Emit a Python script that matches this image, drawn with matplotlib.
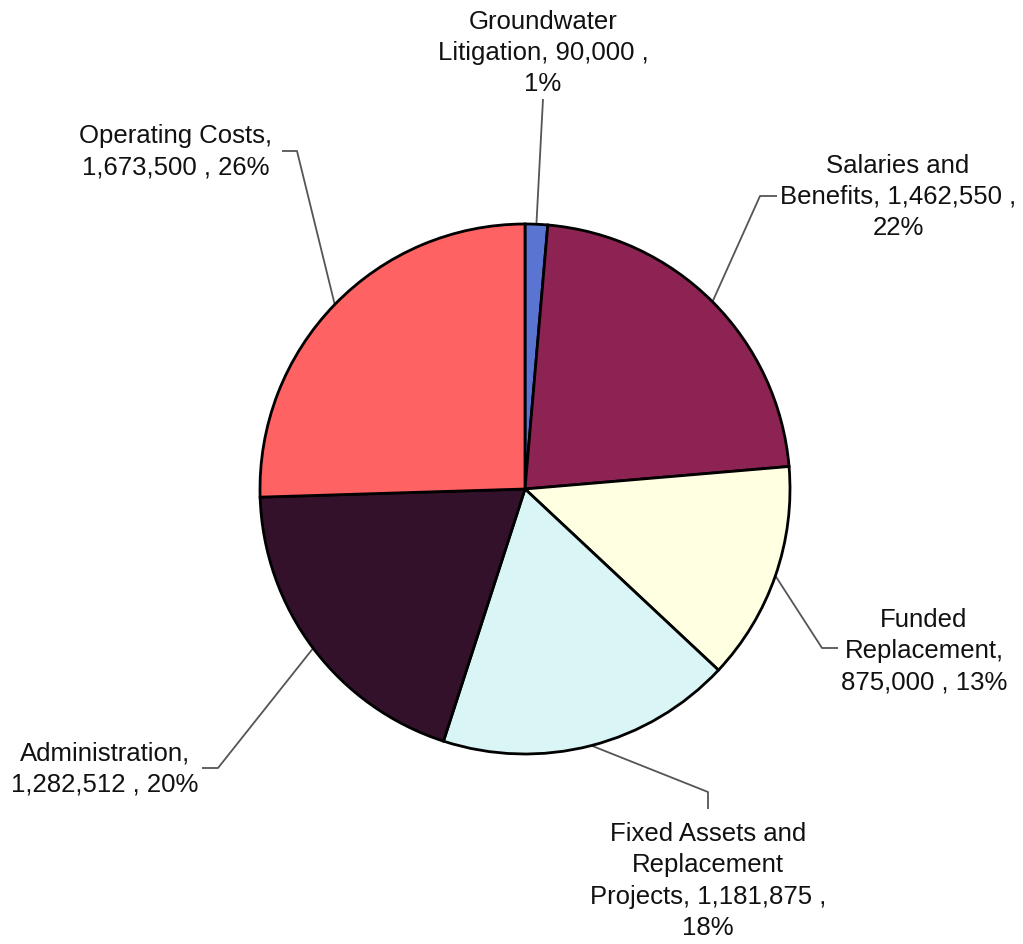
import numpy as np
import matplotlib
matplotlib.use('Agg')
import matplotlib.pyplot as plt

labels = ['Groundwater\nLitigation, 90,000 ,\n1%',
          'Salaries and\nBenefits, 1,462,550 ,\n22%',
          'Funded\nReplacement,\n875,000 , 13%',
          'Fixed Assets and\nReplacement\nProjects, 1,181,875 ,\n18%',
          'Administration,\n1,282,512 , 20%',
          'Operating Costs,\n1,673,500 , 26%']
values = [90000, 1462550, 875000, 1181875, 1282512, 1673500]
colors = ['#5a74d2', '#8c2352', '#ffffe2', '#daf5f5', '#34112b', '#ff6262']

# label layout in pixel coords (y from top): text centre, bend point, line end
text_pos = [(543, 53), (898, 197), (924, 651), (708, 881), (105, 769), (176, 152)]
bends = [(543, 100), (760, 197), (822, 649), (708, 793), (218, 769), (297, 152)]
ends = [(543, 100), (777, 197), (838, 649), (708, 810), (202, 769), (282, 152)]

W, H = 1023, 945
cx, cy, R = 525, 490, 265

fig = plt.figure(figsize=(W / 100, H / 100), dpi=100)
ax = fig.add_axes([0, 0, 1, 1])

wedges, _ = ax.pie(values, colors=colors, startangle=90, counterclock=False,
                   center=(cx, H - cy), radius=R, frame=True,
                   wedgeprops=dict(edgecolor='black', linewidth=2))
ax.set_xlim(0, W)
ax.set_ylim(0, H)
ax.set_aspect('equal')
ax.axis('off')

for w, lab, tp, b, e in zip(wedges, labels, text_pos, bends, ends):
    ang = np.deg2rad((w.theta1 + w.theta2) / 2)
    sx = cx + R * np.cos(ang)
    sy = H - cy + R * np.sin(ang)
    ax.plot([sx, b[0], e[0]], [sy, H - b[1], H - e[1]], color='#555555', lw=1.3,
            solid_capstyle='butt', zorder=0)
    ax.text(tp[0], H - tp[1], lab, ha='center', va='center', fontsize=18.5,
            family='Liberation Sans', linespacing=1.39, color='#111111')

fig.savefig('out.png', dpi=100)
